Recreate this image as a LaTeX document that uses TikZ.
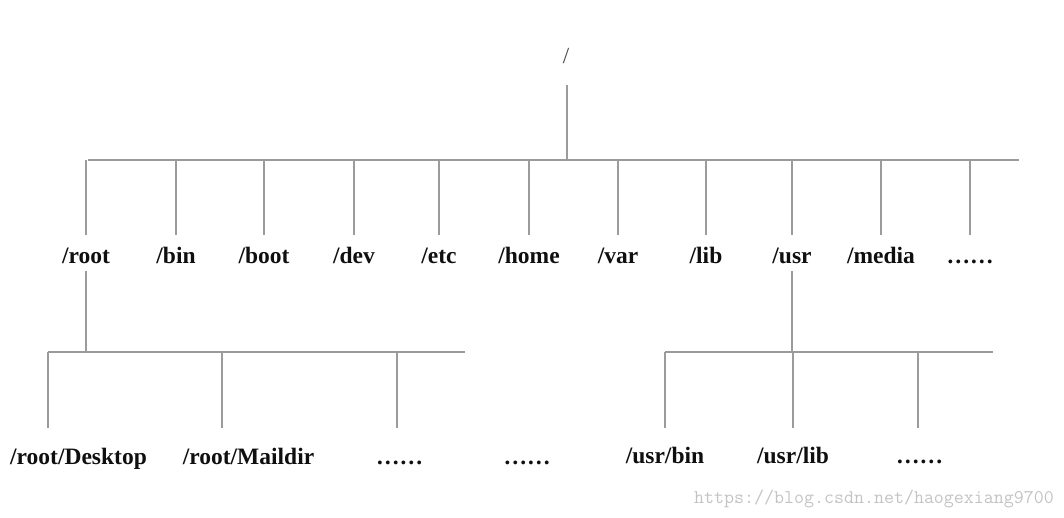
\documentclass[tikz,border=0pt]{standalone}
\usepackage{fontspec}
\setmainfont{Liberation Serif}
\definecolor{ln}{RGB}{155,155,155}
\definecolor{txt}{RGB}{15,15,15}
\definecolor{slashc}{RGB}{70,70,70}
\definecolor{wm}{RGB}{195,195,195}
\begin{document}
\begin{tikzpicture}[x=1pt,y=-1pt,
  lab/.style={font=\fontsize{23.5}{28}\selectfont\bfseries, text=txt, anchor=base, inner sep=0pt, text height=16pt, text depth=5pt},
  conn/.style={draw=ln, line width=1.3pt}]
\useasboundingbox (0,0) rectangle (1064,518);
% top
\node[anchor=base, inner sep=0pt, text=slashc, font=\fontsize{23}{26}\selectfont] (top) at (566,64) {/};
\coordinate (t0) at (567,85);
\coordinate (j0) at (567,160);
\coordinate (b0l) at (88,160);
\coordinate (b0r) at (1019,160);
\draw[conn] (t0) -- (j0);
\draw[conn] (b0l) -- (b0r);
% level 1
\foreach \n/\x/\t in {root/86/{/root}, bin/176/{/bin}, boot/264/{/boot}, dev/354/{/dev}, etc/439/{/etc}, home/529/{/home}, var/618/{/var}, lib/706/{/lib}, usr/792/{/usr}, media/881/{/media}, more/970/{……}}{
  \node[lab] (l\n) at (\x,264) {\t};
  \draw[conn, shorten >=13pt] (b0l -| l\n) -- (l\n.north);
}
% /root subtree
\coordinate (j1) at (86,352);
\coordinate (b1l) at (48,352);
\coordinate (b1r) at (465,352);
\draw[conn, shorten <=2pt] (lroot.south) -- (j1);
\draw[conn] (b1l) -- (b1r);
\coordinate (e1) at (48,428);
\coordinate (e2) at (222,428);
\coordinate (e3) at (397,428);
\foreach \e in {e1,e2,e3}{ \draw[conn] (b1l -| \e) -- (\e); }
\node[lab] (rdesk) at (78.5,464) {/root/Desktop};
\node[lab] (rmail) at (248.5,464) {/root/Maildir};
\node[lab] (rmore) at (399.5,464) {……};
\node[lab] (mmore) at (527,464) {……};
% /usr subtree
\coordinate (j2) at (792,352);
\coordinate (b2l) at (665,352);
\coordinate (b2r) at (993,352);
\draw[conn, shorten <=2pt] (lusr.south) -- (j2);
\draw[conn] (b2l) -- (b2r);
\coordinate (e4) at (665,428);
\coordinate (e5) at (793,428);
\coordinate (e6) at (918,428);
\foreach \e in {e4,e5,e6}{ \draw[conn] (b2l -| \e) -- (\e); }
\node[lab] (ubin) at (665,463) {/usr/bin};
\node[lab] (ulib) at (793,463) {/usr/lib};
\node[lab] (umore) at (919.5,463) {……};
% watermark
\node[anchor=base west, inner sep=0pt, text=wm, font=\fontsize{19.4}{22}\selectfont\ttfamily] (wmk) at (694,503) {https://blog.csdn.net/haogexiang9700};
\end{tikzpicture}
\end{document}
